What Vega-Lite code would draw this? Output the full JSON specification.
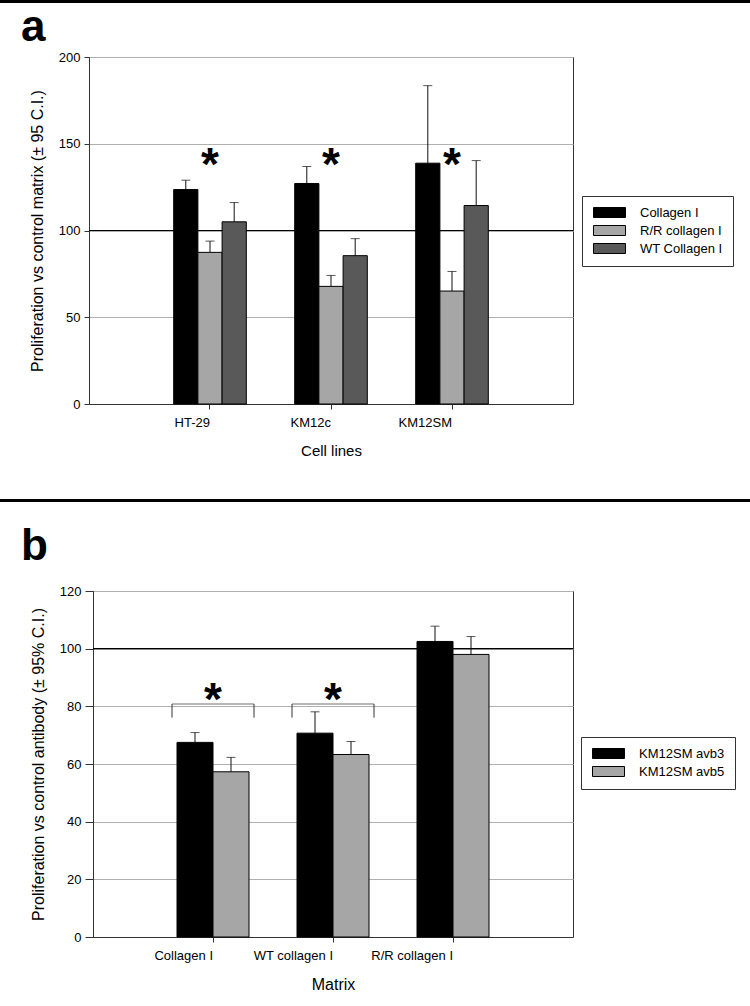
{
  "$schema": "https://vega.github.io/schema/vega-lite/v6.json",
  "padding": 0,
  "background": "white",
  "config": {
    "font": "Liberation Sans",
    "view": {"stroke": "#333", "strokeWidth": 1},
    "axis": {
      "domainColor": "#333", "tickColor": "#333", "labelColor": "#000", "titleColor": "#000",
      "labelFontSize": 13, "titleFontSize": 16, "titleFontWeight": "normal",
      "labelFont": "Liberation Sans", "titleFont": "Liberation Sans",
      "gridColor": "#b0b0b0", "gridWidth": 1
    },
    "legend": {"labelFont": "Liberation Sans", "labelColor": "#000"}
  },
  "spacing": 40,
  "resolve": {"scale": {"color": "independent", "x": "independent", "y": "independent", "xOffset": "independent"}, "legend": {"color": "independent"}},
  "vconcat": [
    {
      "spacing": 2,
      "resolve": {"scale": {"color": "independent", "x": "independent", "y": "independent", "xOffset": "independent"}, "legend": {"color": "independent"}},
      "vconcat": [
        {
          "width": 750, "height": 3,
          "view": {"stroke": null},
          "data": {"values": [{"k": 0}]},
          "mark": {"type": "rect", "color": "#000"},
          "encoding": {
            "x": {"datum": 0, "type": "quantitative", "scale": {"domain": [0, 1], "nice": false}, "axis": null},
            "x2": {"datum": 1},
            "y": {"datum": 0, "type": "quantitative", "scale": {"domain": [0, 1], "nice": false}, "axis": null},
            "y2": {"datum": 1}
          }
        },
        {
          "spacing": 19,
          "resolve": {"scale": {"color": "independent", "x": "independent", "y": "independent", "xOffset": "independent"}, "legend": {"color": "independent"}},
          "hconcat": [
            {
              "width": 1, "height": 1,
              "view": {"stroke": null},
              "data": {"values": [{"k": 0}]},
              "mark": {"type": "rect", "opacity": 0},
              "encoding": {
                "x": {"datum": 0, "type": "quantitative", "scale": {"domain": [0, 1], "nice": false}, "axis": null},
                "x2": {"datum": 1},
                "y": {"datum": 0, "type": "quantitative", "scale": {"domain": [0, 1], "nice": false}, "axis": null},
                "y2": {"datum": 1}
              }
            },
            {
              "width": 484, "height": 347,
              "title": {"text": "a", "anchor": "start", "frame": "group", "font": "Liberation Sans", "fontSize": 44, "fontWeight": "bold", "dx": -68, "offset": 1, "color": "#000"},
              "data": {"values": [
                {"cell": "HT-29", "series": "Collagen I", "value": 123.6, "upper": 129.0},
                {"cell": "HT-29", "series": "R/R collagen I", "value": 87.4, "upper": 93.9},
                {"cell": "HT-29", "series": "WT Collagen I", "value": 105.0, "upper": 116.1},
                {"cell": "KM12c", "series": "Collagen I", "value": 127.1, "upper": 136.9},
                {"cell": "KM12c", "series": "R/R collagen I", "value": 67.8, "upper": 74.1},
                {"cell": "KM12c", "series": "WT Collagen I", "value": 85.5, "upper": 95.3},
                {"cell": "KM12SM", "series": "Collagen I", "value": 138.8, "upper": 183.5},
                {"cell": "KM12SM", "series": "R/R collagen I", "value": 65.1, "upper": 76.4},
                {"cell": "KM12SM", "series": "WT Collagen I", "value": 114.4, "upper": 140.3}
              ]},
              "layer": [
                {
                  "data": {"values": [{"ref": 100}]},
                  "mark": {"type": "rule", "color": "#000", "strokeWidth": 1.2},
                  "encoding": {"y": {"field": "ref", "type": "quantitative"}}
                },
                {
                  "mark": {"type": "rule", "color": "#111", "strokeWidth": 1},
                  "encoding": {
                    "x": {"field": "cell", "type": "nominal", "sort": ["HT-29", "KM12c", "KM12SM"]},
                    "xOffset": {"field": "series", "type": "nominal", "sort": ["Collagen I", "R/R collagen I", "WT Collagen I"]},
                    "y": {"field": "value", "type": "quantitative"},
                    "y2": {"field": "upper"}
                  }
                },
                {
                  "mark": {"type": "tick", "color": "#111", "size": 9, "thickness": 1},
                  "encoding": {
                    "x": {"field": "cell", "type": "nominal", "sort": ["HT-29", "KM12c", "KM12SM"]},
                    "xOffset": {"field": "series", "type": "nominal", "sort": ["Collagen I", "R/R collagen I", "WT Collagen I"]},
                    "y": {"field": "upper", "type": "quantitative"}
                  }
                },
                {
                  "mark": {"type": "bar", "stroke": "#000", "strokeWidth": 1},
                  "encoding": {
                    "x": {"field": "cell", "type": "nominal", "sort": ["HT-29", "KM12c", "KM12SM"],
                      "scale": {"paddingInner": 0.4, "paddingOuter": 0.7},
                      "axis": {"title": "Cell lines", "labelAngle": 0, "tickSize": 5, "labelPadding": 13, "titlePadding": 14, "titleFontSize": 15}},
                    "xOffset": {"field": "series", "type": "nominal", "sort": ["Collagen I", "R/R collagen I", "WT Collagen I"], "scale": {"paddingInner": 0, "paddingOuter": 0}},
                    "y": {"field": "value", "type": "quantitative", "stack": null,
                      "scale": {"domain": [0, 200], "nice": false},
                      "axis": {"title": "Proliferation vs control matrix (± 95 C.I.)", "values": [0, 50, 100, 150, 200], "grid": true, "tickSize": 5, "labelPadding": 4, "titlePadding": 13}},
                    "color": {"field": "series", "type": "nominal",
                      "scale": {"domain": ["Collagen I", "R/R collagen I", "WT Collagen I"], "range": ["#000000", "#a6a6a6", "#595959"]},
                      "legend": {"title": null, "orient": "none", "legendX": 493, "legendY": 139,
                        "symbolType": "M-3.2,-1H3.2V1H-3.2Z", "symbolSize": 100, "symbolStrokeColor": "#000", "symbolStrokeWidth": 1,
                        "symbolOffset": 11, "labelOffset": 24, "labelFontSize": 13, "padding": 10, "rowPadding": 3,
                        "strokeColor": "#333", "fillColor": "#fff"}}
                  }
                },
                {
                  "data": {"values": [{"cell": "HT-29", "star": 142}, {"cell": "KM12c", "star": 142}, {"cell": "KM12SM", "star": 142}]},
                  "mark": {"type": "text", "text": "*", "fontSize": 46, "fontWeight": "bold", "baseline": "middle", "dy": 8, "color": "#000"},
                  "encoding": {
                    "x": {"field": "cell", "type": "nominal", "sort": ["HT-29", "KM12c", "KM12SM"]},
                    "y": {"field": "star", "type": "quantitative"}
                  }
                }
              ]
            }
          ]
        }
      ]
    },
    {
      "spacing": 22,
      "resolve": {"scale": {"color": "independent", "x": "independent", "y": "independent", "xOffset": "independent"}, "legend": {"color": "independent"}},
      "vconcat": [
        {
          "width": 750, "height": 3,
          "view": {"stroke": null},
          "data": {"values": [{"k": 0}]},
          "mark": {"type": "rect", "color": "#000"},
          "encoding": {
            "x": {"datum": 0, "type": "quantitative", "scale": {"domain": [0, 1], "nice": false}, "axis": null},
            "x2": {"datum": 1},
            "y": {"datum": 0, "type": "quantitative", "scale": {"domain": [0, 1], "nice": false}, "axis": null},
            "y2": {"datum": 1}
          }
        },
        {
          "spacing": 19,
          "resolve": {"scale": {"color": "independent", "x": "independent", "y": "independent", "xOffset": "independent"}, "legend": {"color": "independent"}},
          "hconcat": [
            {
              "width": 1, "height": 1,
              "view": {"stroke": null},
              "data": {"values": [{"k": 0}]},
              "mark": {"type": "rect", "opacity": 0},
              "encoding": {
                "x": {"datum": 0, "type": "quantitative", "scale": {"domain": [0, 1], "nice": false}, "axis": null},
                "x2": {"datum": 1},
                "y": {"datum": 0, "type": "quantitative", "scale": {"domain": [0, 1], "nice": false}, "axis": null},
                "y2": {"datum": 1}
              }
            },
            {
              "width": 480, "height": 346,
              "title": {"text": "b", "anchor": "start", "frame": "group", "font": "Liberation Sans", "fontSize": 44, "fontWeight": "bold", "dx": -72, "offset": 16, "color": "#000"},
              "data": {"values": [
                {"matrix": "Collagen I", "antibody": "KM12SM avb3", "value": 67.5, "upper": 70.9},
                {"matrix": "Collagen I", "antibody": "KM12SM avb5", "value": 57.3, "upper": 62.3},
                {"matrix": "WT collagen I", "antibody": "KM12SM avb3", "value": 70.7, "upper": 78.1},
                {"matrix": "WT collagen I", "antibody": "KM12SM avb5", "value": 63.3, "upper": 67.8},
                {"matrix": "R/R collagen I", "antibody": "KM12SM avb3", "value": 102.5, "upper": 107.8},
                {"matrix": "R/R collagen I", "antibody": "KM12SM avb5", "value": 98.0, "upper": 104.2}
              ]},
              "layer": [
                {
                  "data": {"values": [{"ref": 100}]},
                  "mark": {"type": "rule", "color": "#000", "strokeWidth": 1.2},
                  "encoding": {"y": {"field": "ref", "type": "quantitative"}}
                },
                {
                  "mark": {"type": "rule", "color": "#111", "strokeWidth": 1},
                  "encoding": {
                    "x": {"field": "matrix", "type": "nominal", "sort": ["Collagen I", "WT collagen I", "R/R collagen I"]},
                    "xOffset": {"field": "antibody", "type": "nominal", "sort": ["KM12SM avb3", "KM12SM avb5"]},
                    "y": {"field": "value", "type": "quantitative"},
                    "y2": {"field": "upper"}
                  }
                },
                {
                  "mark": {"type": "tick", "color": "#111", "size": 9, "thickness": 1},
                  "encoding": {
                    "x": {"field": "matrix", "type": "nominal", "sort": ["Collagen I", "WT collagen I", "R/R collagen I"]},
                    "xOffset": {"field": "antibody", "type": "nominal", "sort": ["KM12SM avb3", "KM12SM avb5"]},
                    "y": {"field": "upper", "type": "quantitative"}
                  }
                },
                {
                  "mark": {"type": "bar", "stroke": "#000", "strokeWidth": 1},
                  "encoding": {
                    "x": {"field": "matrix", "type": "nominal", "sort": ["Collagen I", "WT collagen I", "R/R collagen I"],
                      "scale": {"paddingInner": 0.4, "paddingOuter": 0.7},
                      "axis": {"title": "Matrix", "labelAngle": 0, "tickSize": 5, "labelPadding": 13, "titlePadding": 14, "titleFontSize": 16}},
                    "xOffset": {"field": "antibody", "type": "nominal", "sort": ["KM12SM avb3", "KM12SM avb5"], "scale": {"paddingInner": 0, "paddingOuter": 0}},
                    "y": {"field": "value", "type": "quantitative", "stack": null,
                      "scale": {"domain": [0, 120], "nice": false},
                      "axis": {"title": "Proliferation vs control antibody (± 95% C.I.)", "values": [0, 20, 40, 60, 80, 100, 120], "grid": true, "tickSize": 8, "labelPadding": 4, "titlePadding": 13}},
                    "color": {"field": "antibody", "type": "nominal",
                      "scale": {"domain": ["KM12SM avb3", "KM12SM avb5"], "range": ["#000000", "#a6a6a6"]},
                      "legend": {"title": null, "orient": "none", "legendX": 488, "legendY": 146,
                        "symbolType": "M-3.2,-1H3.2V1H-3.2Z", "symbolSize": 100, "symbolStrokeColor": "#000", "symbolStrokeWidth": 1,
                        "symbolOffset": 11, "labelOffset": 24, "labelFontSize": 13, "padding": 10, "rowPadding": 3,
                        "strokeColor": "#333", "fillColor": "#fff"}}
                  }
                },
                {
                  "data": {"values": [
                    {"matrix": "Collagen I", "top": 80.8, "bottom": 76.1, "star": 84.8},
                    {"matrix": "WT collagen I", "top": 80.8, "bottom": 76.1, "star": 84.8}
                  ]},
                  "layer": [
                    {
                      "mark": {"type": "tick", "color": "#333", "size": 82, "thickness": 1},
                      "encoding": {
                        "x": {"field": "matrix", "type": "nominal", "sort": ["Collagen I", "WT collagen I", "R/R collagen I"]},
                        "y": {"field": "top", "type": "quantitative"}
                      }
                    },
                    {
                      "mark": {"type": "rule", "color": "#333", "strokeWidth": 1, "xOffset": -5},
                      "encoding": {
                        "x": {"field": "matrix", "type": "nominal", "sort": ["Collagen I", "WT collagen I", "R/R collagen I"], "bandPosition": 0},
                        "y": {"field": "top", "type": "quantitative"},
                        "y2": {"field": "bottom"}
                      }
                    },
                    {
                      "mark": {"type": "rule", "color": "#333", "strokeWidth": 1, "xOffset": 5},
                      "encoding": {
                        "x": {"field": "matrix", "type": "nominal", "sort": ["Collagen I", "WT collagen I", "R/R collagen I"], "bandPosition": 1},
                        "y": {"field": "top", "type": "quantitative"},
                        "y2": {"field": "bottom"}
                      }
                    },
                    {
                      "mark": {"type": "text", "text": "*", "fontSize": 46, "fontWeight": "bold", "baseline": "middle", "dy": 9, "color": "#000"},
                      "encoding": {
                        "x": {"field": "matrix", "type": "nominal", "sort": ["Collagen I", "WT collagen I", "R/R collagen I"]},
                        "y": {"field": "star", "type": "quantitative"}
                      }
                    }
                  ]
                }
              ]
            }
          ]
        }
      ]
    }
  ]
}
